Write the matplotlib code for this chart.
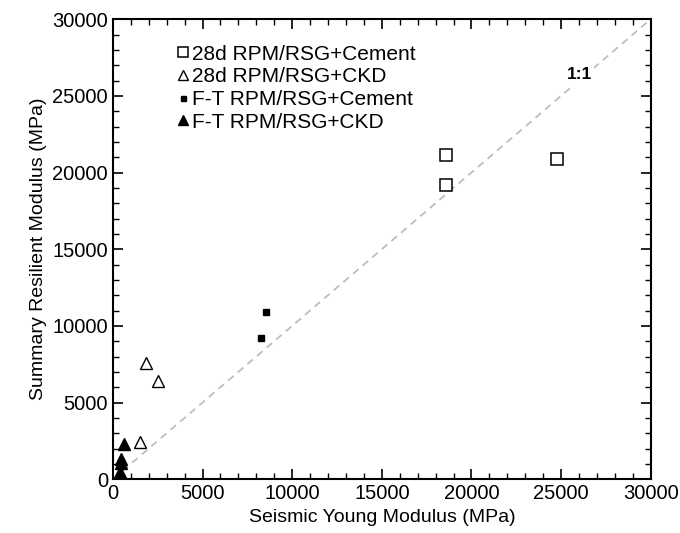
import matplotlib
matplotlib.use("Agg")
import matplotlib.pyplot as plt
from matplotlib.ticker import MultipleLocator

plt.rcParams['font.family'] = ['Liberation Sans', 'DejaVu Sans']

# Data (MPa)
cem28_x = [18600, 18600, 24750]
cem28_y = [21150, 19200, 20850]
ckd28_x = [1850, 2500, 1500]
ckd28_y = [7550, 6400, 2450]
ftcem_x = [8550, 8250]
ftcem_y = [10900, 9200]
ftckd_x = [630, 480, 430, 390]
ftckd_y = [2280, 1300, 1050, 450]

labels = ["28d RPM/RSG+Cement", "28d RPM/RSG+CKD",
          "F-T RPM/RSG+Cement", "F-T RPM/RSG+CKD"]

fig = plt.figure(figsize=(6.8, 5.33), dpi=100)
ax = fig.add_axes([0.166, 0.101, 0.791, 0.863])

ax.plot([0, 30000], [0, 30000], linestyle=(0, (4, 3)), color='#bdbdbd', lw=1.3, zorder=1)

ax.plot(cem28_x, cem28_y, 's', ms=8.5, mfc='white', mec='black', mew=1.1, label=labels[0], zorder=3)
ax.plot(ckd28_x, ckd28_y, '^', ms=9, mfc='white', mec='black', mew=1.0, label=labels[1], zorder=3)
ax.plot(ftcem_x, ftcem_y, 's', ms=4.5, mfc='black', mec='black', label=labels[2], zorder=3)
ax.plot(ftckd_x, ftckd_y, '^', ms=9, mfc='black', mec='black', label=labels[3], zorder=3)

ax.text(26000, 26400, "1:1", fontsize=12.5, fontweight='bold', ha='center', va='center',
        bbox=dict(facecolor='white', edgecolor='none', pad=2), zorder=2)

ax.set_xlim(0, 30000)
ax.set_ylim(0, 30000)
ax.xaxis.set_major_locator(MultipleLocator(5000))
ax.yaxis.set_major_locator(MultipleLocator(5000))
ax.xaxis.set_minor_locator(MultipleLocator(1000))
ax.yaxis.set_minor_locator(MultipleLocator(1000))
ax.tick_params(which='both', direction='in', top=True, right=True, labelsize=14.5)
ax.tick_params(which='major', length=7, width=1.2)
ax.tick_params(which='minor', length=4, width=1.0)
for s in ax.spines.values():
    s.set_linewidth(1.5)

ax.set_xlabel("Seismic Young Modulus (MPa)", fontsize=14)
ax.set_ylabel("Summary Resilient Modulus (MPa)", fontsize=14)

leg = ax.legend(loc='upper left', bbox_to_anchor=(0.105, 0.963), frameon=False,
                fontsize=15, handlelength=0.5, handletextpad=0.2, labelspacing=0.18,
                borderaxespad=0, markerscale=0.8)

fig.savefig("out.png", dpi=100)
